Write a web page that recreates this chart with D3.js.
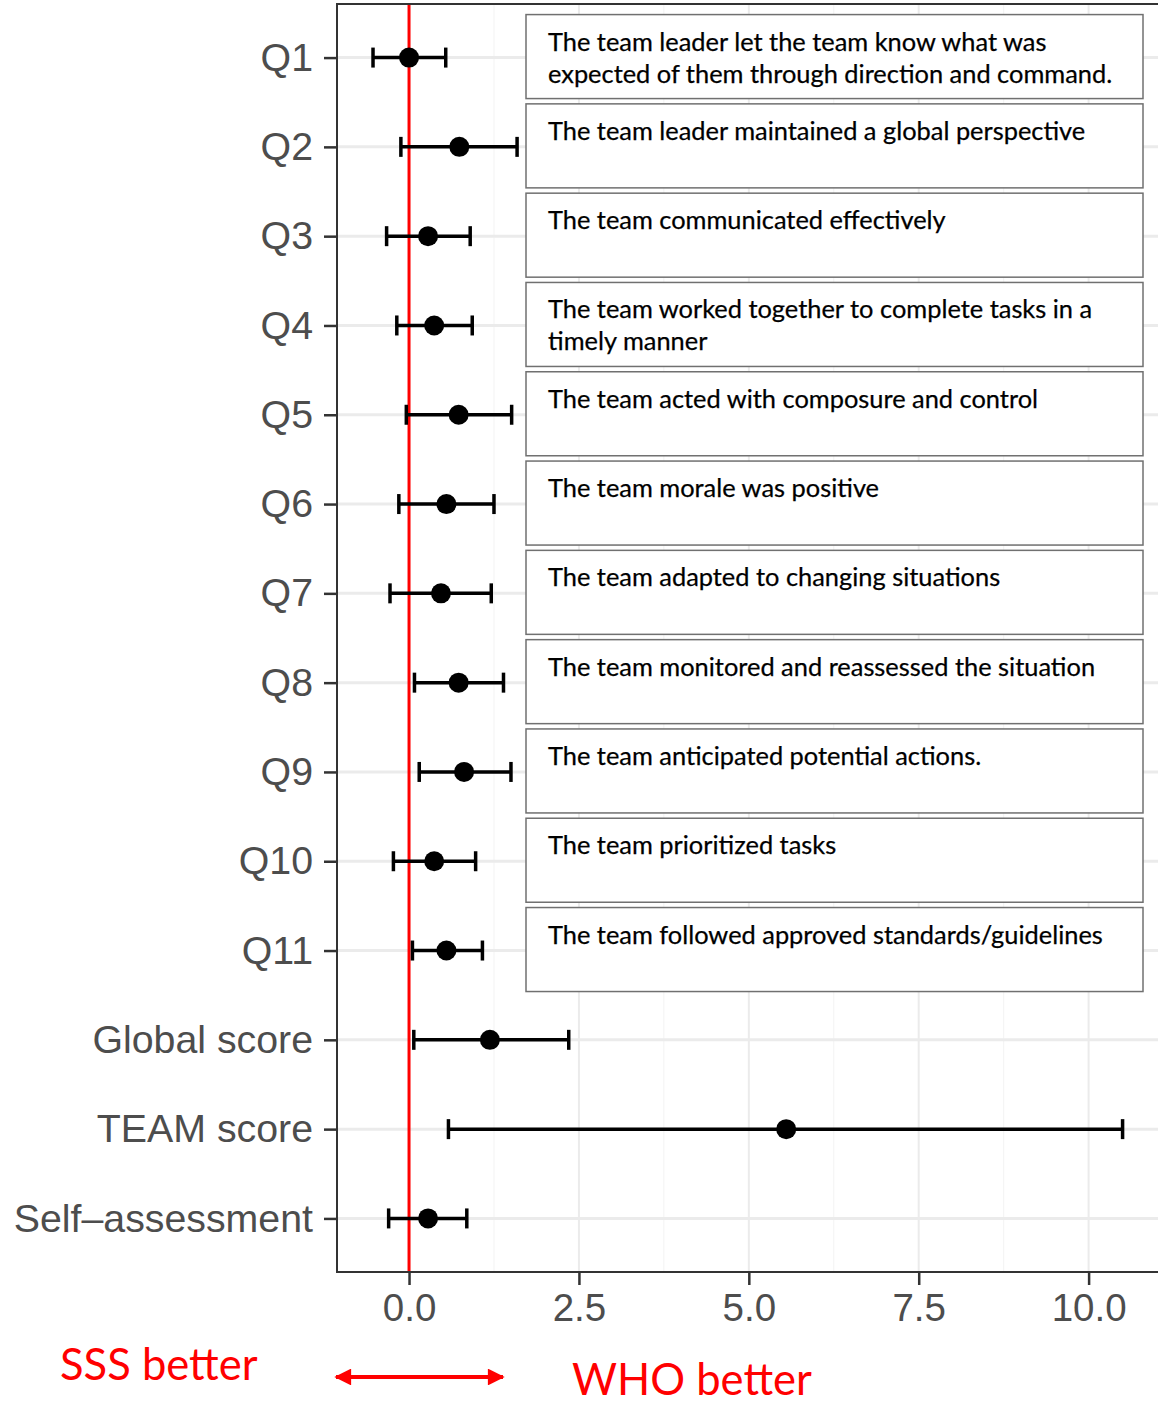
<!DOCTYPE html>
<html>
<head>
<meta charset="utf-8">
<script src="https://cdn.jsdelivr.net/npm/d3@7"></script>
<style>
  html, body { margin: 0; padding: 0; background: #fff; }
  svg { display: block; }
</style>
</head>
<body>
<svg id="chart" width="1158" height="1404"></svg>
<script>
// ---- data ----
const categories = ["Q1","Q2","Q3","Q4","Q5","Q6","Q7","Q8","Q9","Q10","Q11","Global score","TEAM score","Self\u2013assessment"];
const estimates = [0.00, 0.74, 0.28, 0.37, 0.73, 0.55, 0.47, 0.73, 0.81, 0.37, 0.55, 1.19, 5.55, 0.28];
const lowerCI   = [-0.53, -0.12, -0.33, -0.18, -0.04, -0.15, -0.28, 0.08, 0.15, -0.23, 0.05, 0.07, 0.58, -0.30];
const upperCI   = [0.54, 1.59, 0.90, 0.93, 1.51, 1.25, 1.21, 1.39, 1.50, 0.98, 1.08, 2.35, 10.50, 0.85];
const xTicks = [0, 2.5, 5, 7.5, 10];
const xMinorTicks = [1.25, 3.75, 6.25, 8.75];
const questionTexts = [
  ["The team leader let the team know what was", "expected of them through direction and command."],
  ["The team leader maintained a global perspective"],
  ["The team communicated effectively"],
  ["The team worked together to complete tasks in a", "timely manner"],
  ["The team acted with composure and control"],
  ["The team morale was positive"],
  ["The team adapted to changing situations"],
  ["The team monitored and reassessed the situation"],
  ["The team anticipated potential actions."],
  ["The team prioritized tasks"],
  ["The team followed approved standards/guidelines"]
];
const leftLabel = "SSS better";
const rightLabel = "WHO better";

// ---- layout ----
const panel = { left: 337, top: 4, right: 1162, bottom: 1272 };
const svg = d3.select("#chart");

const x = d3.scaleLinear().domain([-1.06, 11.08]).range([panel.left, panel.right]);
const y = d3.scalePoint().domain(categories).range([panel.top, panel.bottom]).padding(0.6);

// grid
const g = svg.append("g");
g.selectAll(".minor").data(xMinorTicks).join("line")
  .attr("x1", d => x(d)).attr("x2", d => x(d))
  .attr("y1", panel.top).attr("y2", panel.bottom)
  .attr("stroke", "#f3f3f3").attr("stroke-width", 1);
g.selectAll(".majorx").data(xTicks).join("line")
  .attr("x1", d => x(d)).attr("x2", d => x(d))
  .attr("y1", panel.top).attr("y2", panel.bottom)
  .attr("stroke", "#ebebeb").attr("stroke-width", 2);
g.selectAll(".majory").data(categories).join("line")
  .attr("x1", panel.left).attr("x2", panel.right)
  .attr("y1", d => y(d)).attr("y2", d => y(d))
  .attr("stroke", "#ebebeb").attr("stroke-width", 3);

// annotation boxes
const boxG = svg.append("g");
const boxX = 526, boxW = 617, boxH = 84;
questionTexts.forEach((lines, i) => {
  const cy = y(categories[i]);
  const top = cy - 43;
  boxG.append("rect")
    .attr("x", boxX).attr("y", top).attr("width", boxW).attr("height", boxH)
    .attr("fill", "#fff").attr("stroke", "#707070").attr("stroke-width", 1.5);
  lines.forEach((t, j) => {
    boxG.append("text")
      .attr("x", boxX + 22).attr("y", top + 36 + j * 32)
      .attr("font-family", "Lato, 'Open Sans', sans-serif")
      .attr("font-size", 25.4).attr("fill", "#000")
      .attr("stroke", "#000").attr("stroke-width", 0.25)
      .text(t);
  });
});

// red zero line
svg.append("line")
  .attr("x1", x(0)).attr("x2", x(0))
  .attr("y1", panel.top).attr("y2", panel.bottom)
  .attr("stroke", "#ff0000").attr("stroke-width", 3);

// error bars
const eb = svg.append("g");
const capH = 10;
categories.forEach((c, i) => {
  const yy = y(c);
  eb.append("line").attr("x1", x(lowerCI[i])).attr("x2", x(upperCI[i]))
    .attr("y1", yy).attr("y2", yy).attr("stroke", "#000").attr("stroke-width", 3.5);
  [lowerCI[i], upperCI[i]].forEach(v => {
    eb.append("line").attr("x1", x(v)).attr("x2", x(v))
      .attr("y1", yy - capH).attr("y2", yy + capH)
      .attr("stroke", "#000").attr("stroke-width", 3.5);
  });
  eb.append("circle").attr("cx", x(estimates[i])).attr("cy", yy).attr("r", 10).attr("fill", "#000");
});

// panel border
svg.append("rect")
  .attr("x", panel.left).attr("y", panel.top)
  .attr("width", panel.right - panel.left).attr("height", panel.bottom - panel.top)
  .attr("fill", "none").attr("stroke", "#333").attr("stroke-width", 2);

// axes
const yAxis = d3.axisLeft(y).tickSize(13).tickPadding(11);
const ya = svg.append("g").attr("transform", `translate(${panel.left},0)`).call(yAxis);
ya.select(".domain").remove();
ya.selectAll(".tick line").attr("stroke", "#333").attr("stroke-width", 2.5);
ya.selectAll(".tick text").attr("fill", "#4d4d4d")
  .attr("font-family", "'Liberation Sans', Arial, sans-serif").attr("font-size", 39.3);

const xAxis = d3.axisBottom(x).tickValues(xTicks).tickFormat(d3.format(".1f")).tickSize(13).tickPadding(9);
const xa = svg.append("g").attr("transform", `translate(0,${panel.bottom})`).call(xAxis);
xa.select(".domain").remove();
xa.selectAll(".tick line").attr("stroke", "#333").attr("stroke-width", 2.5);
xa.selectAll(".tick text").attr("fill", "#4d4d4d")
  .attr("font-family", "'Liberation Sans', Arial, sans-serif").attr("font-size", 38.5);

// bottom annotations
svg.append("text").attr("x", 60).attr("y", 1380)
  .attr("font-family", "Lato, 'Open Sans', sans-serif").attr("font-size", 43.5)
  .attr("fill", "#ff0000").text(leftLabel);
svg.append("text").attr("x", 572).attr("y", 1395)
  .attr("font-family", "Lato, 'Open Sans', sans-serif").attr("font-size", 43.5)
  .attr("fill", "#ff0000").text(rightLabel);

const defs = svg.append("defs");
defs.append("marker").attr("id", "ah").attr("viewBox", "0 0 10 10")
  .attr("refX", 9).attr("refY", 5).attr("markerWidth", 4.6).attr("markerHeight", 4.2)
  .attr("orient", "auto-start-reverse").attr("markerUnits", "strokeWidth")
  .append("path").attr("d", "M0,0 L10,5 L0,10 Z").attr("fill", "#ff0000");
svg.append("line").attr("x1", 336).attr("x2", 503).attr("y1", 1377).attr("y2", 1377)
  .attr("stroke", "#ff0000").attr("stroke-width", 4)
  .attr("marker-start", "url(#ah)").attr("marker-end", "url(#ah)");
</script>
</body>
</html>
